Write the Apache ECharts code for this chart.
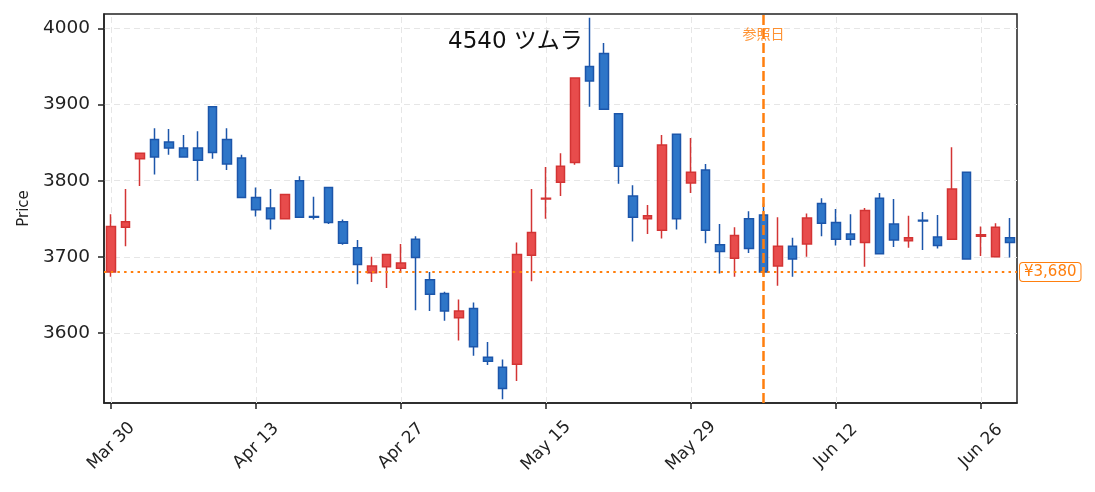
<!DOCTYPE html>
<html>
<head>
<meta charset="utf-8">
<script src="https://cdn.jsdelivr.net/npm/echarts@6/dist/echarts.min.js"></script>
<style>
html,body{margin:0;padding:0;background:#fff;}
#chart{width:1095px;height:492px;}
</style>
</head>
<body>
<div id="chart"></div>
<script>
const dates = ['Mar 30','Mar 31','Apr 1','Apr 2','Apr 3','Apr 6','Apr 7','Apr 8','Apr 9','Apr 10',
  'Apr 13','Apr 14','Apr 15','Apr 16','Apr 17','Apr 20','Apr 21','Apr 22','Apr 23','Apr 24',
  'Apr 27','Apr 28','Apr 30','May 1','May 7','May 8','May 11','May 12','May 13','May 14',
  'May 15','May 18','May 19','May 20','May 21','May 22','May 25','May 26','May 27','May 28',
  'May 29','Jun 1','Jun 2','Jun 3','Jun 4','Jun 5','Jun 8','Jun 9','Jun 10','Jun 11',
  'Jun 12','Jun 15','Jun 16','Jun 17','Jun 18','Jun 19','Jun 22','Jun 23','Jun 24','Jun 25',
  'Jun 26','Jun 29','Jun 30'];
const opens  = [3680,3739,3829,3854,3851,3843,3843,3897,3854,3830,
  3778,3764,3750,3800,3753,3791,3746,3712,3679,3687,
  3685,3723,3670,3652,3620,3632,3568,3555,3559,3702,
  3776,3798,3824,3950,3967,3888,3780,3750,3735,3861,
  3797,3814,3716,3698,3750,3755,3688,3714,3717,3770,
  3745,3730,3719,3777,3743,3721,3748,3726,3723,3811,
  3727,3700,3725];
const closes = [3740,3746,3836,3831,3843,3831,3827,3837,3822,3778,
  3762,3750,3782,3752,3752,3745,3718,3690,3688,3703,
  3692,3699,3651,3629,3629,3582,3563,3527,3703,3732,
  3777,3819,3935,3931,3894,3819,3752,3754,3847,3750,
  3811,3735,3707,3728,3711,3680,3714,3697,3751,3744,
  3723,3723,3761,3704,3722,3725,3747,3715,3789,3697,
  3729,3739,3719];
const lows   = [3674,3714,3793,3808,3834,3831,3800,3829,3814,3778,
  3753,3736,3750,3752,3749,3743,3716,3664,3667,3659,
  3679,3630,3629,3616,3590,3570,3558,3513,3537,3668,
  3750,3780,3821,3897,3894,3796,3720,3730,3724,3736,
  3784,3718,3678,3674,3705,3675,3662,3674,3700,3727,
  3715,3715,3687,3704,3713,3712,3709,3711,3723,3697,
  3701,3700,3699];
const highs  = [3756,3789,3836,3869,3868,3860,3865,3897,3869,3834,
  3791,3789,3782,3806,3779,3791,3749,3722,3700,3703,
  3717,3727,3680,3654,3644,3640,3588,3565,3719,3789,
  3818,3836,3935,4014,3981,3888,3794,3768,3860,3861,
  3856,3822,3743,3739,3760,3770,3752,3725,3757,3777,
  3763,3756,3764,3784,3776,3754,3759,3755,3844,3811,
  3740,3744,3751];
const yTicks = [3600,3700,3800,3900,4000];
const xTickDates = ['Mar 30','Apr 13','Apr 27','May 15','May 29','Jun 12','Jun 26'];
const titleText = '4540 ツムラ';
const refDate = 'Jun 5';
const refDateLabel = '参照日';
const refPrice = 3680;

const FONT = "'DejaVu Sans', 'Noto Sans CJK JP', sans-serif";
const ORANGE = '#ff7f0e';
const candleData = dates.map((d, i) => [opens[i], closes[i], lows[i], highs[i]]);

const chart = echarts.init(document.getElementById('chart'), null, {renderer: 'canvas'});
chart.setOption({
  animation: false,
  backgroundColor: '#fff',
  textStyle: {fontFamily: FONT},
  title: {
    text: titleText, left: 448, top: 31, padding: 0,
    textStyle: {fontSize: 23, fontWeight: 'normal', color: '#111', fontFamily: FONT}
  },
  grid: {left: 104, right: 78, top: 14, bottom: 89, show: true, borderColor: '#222', borderWidth: 1.5, backgroundColor: 'transparent'},
  xAxis: {
    type: 'category', data: dates, boundaryGap: true,
    axisLine: {show: true, lineStyle: {color: '#222', width: 1.5}},
    axisTick: {show: true, interval: 9, alignWithLabel: true, length: 6, lineStyle: {color: '#222', width: 1.5}},
    axisLabel: {interval: 9, rotate: 45, align: 'center', verticalAlign: 'middle', margin: 43,
      fontSize: 17, color: '#222', fontFamily: FONT},
    splitLine: {show: false}
  },
  yAxis: {
    type: 'value', min: 3508, max: 4019, scale: true,
    name: 'Price', nameLocation: 'middle', nameGap: 66, nameRotate: 90,
    nameTextStyle: {fontSize: 15, color: '#222', fontFamily: FONT},
    axisLine: {show: true, lineStyle: {color: '#222', width: 1.5}},
    axisTick: {show: true, length: 6, customValues: yTicks, lineStyle: {color: '#222', width: 1.5}},
    axisLabel: {customValues: yTicks, margin: 14, fontSize: 18.5, color: '#222', fontFamily: FONT,
      formatter: v => (yTicks.indexOf(v) >= 0 ? String(v) : '')},
    splitLine: {show: true, lineStyle: {color: '#e6e6e6', type: [6, 4], width: 1}}
  },
  series: [
    {
      name: 'grid-x', type: 'line', data: [], z: 1, silent: true,
      markLine: {
        silent: true, symbol: 'none', z: 1, animation: false,
        label: {show: false},
        lineStyle: {color: '#e6e6e6', type: [6, 4], width: 1},
        data: xTickDates.map(d => ({xAxis: d}))
      }
    },
    {
      name: '4540', type: 'candlestick', data: candleData, barWidth: 9, z: 2,
      itemStyle: {
        color: '#e84c4c', color0: '#2e76c8',
        borderColor: '#d33434', borderColor0: '#1c56aa', borderWidth: 1.5
      },
      markLine: {
        silent: true, symbol: 'none', animation: false, z: 5,
        data: [
          {
            xAxis: refDate,
            lineStyle: {color: ORANGE, type: [10, 4], width: 2.5},
            label: {show: true, position: 'end', formatter: refDateLabel, distance: -27,
              color: ORANGE, opacity: 0.85, fontSize: 14, fontFamily: "'Noto Sans CJK JP', sans-serif"}
          },
          {
            yAxis: refPrice,
            lineStyle: {color: ORANGE, type: [2.5, 4.2], width: 2},
            label: {show: true, position: 'end', distance: 3,
              formatter: '¥' + refPrice.toLocaleString('en-US'),
              color: ORANGE, fontSize: 15, fontFamily: FONT,
              backgroundColor: '#fff', borderColor: ORANGE, borderWidth: 1, borderRadius: 3,
              padding: [2, 4, 1, 4]}
          }
        ]
      }
    }
  ]
});
</script>
</body>
</html>
